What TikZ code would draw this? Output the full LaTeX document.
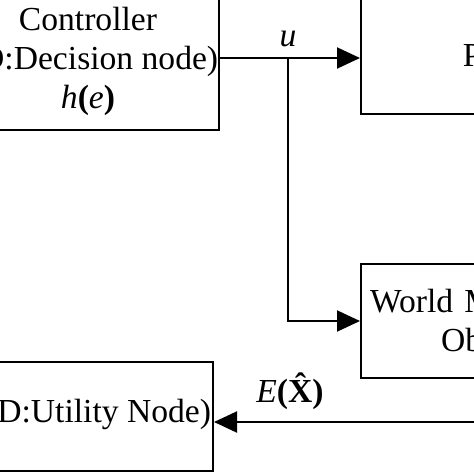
\documentclass[tikz,border=0pt]{standalone}
\usepackage{fontspec}
\setmainfont{Liberation Serif}
\usetikzlibrary{arrows.meta}
\begin{document}
\begin{tikzpicture}[x=1pt,y=-1pt,
  txt/.style={font=\fontsize{33.6}{39}\selectfont, inner sep=0pt},
  box/.style={txt, draw, line width=2pt, align=center},
  arr/.style={line width=2pt, -{Triangle[length=23pt,width=21pt]}}]
\useasboundingbox[fill=white] (0,0) rectangle (474,474);
% boxes
\node[box, minimum width=262pt, minimum height=138pt] (ctrl) at (88,61)
  {Controller\\(ID:Decision node)\\\textit{h}\textbf{(}\textit{e}\textbf{)}};
\node[box, minimum width=273pt, minimum height=117pt] (plant) at (497.5,55.5) {Plant};
\node[box, align=left, text width=255pt, inner xsep=9pt, minimum height=114pt]
  (wm) at (497.5,321)
  {World Model\\\hspace*{71pt}Observer};
\node[box, minimum width=240pt, minimum height=109pt, text depth=12pt] (util) at (93,416.5)
  {(ID:Utility Node)};
% connectors
\coordinate (j) at (288,58);
\coordinate (src) at (520,422);
\draw[arr] (ctrl.east |- j) -- (plant.west |- j);
\draw[arr] (j) |- (wm.west);
\draw[arr] (src) -- (src -| util.east);
% labels
\node[txt, anchor=base] (lu) at (288,46) {\textit{u}};
\node[txt, anchor=base] (le) at (290,402) {\textit{E}\textbf{(\^{X})}};
\end{tikzpicture}
\end{document}
